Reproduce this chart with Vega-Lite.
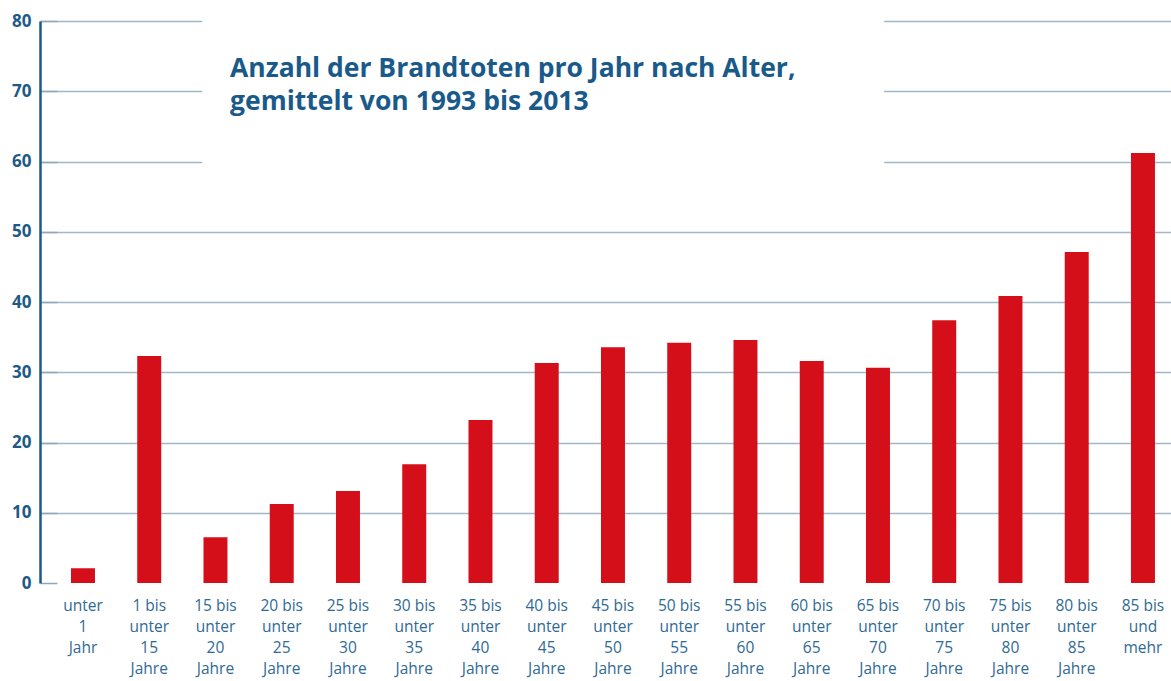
{
  "$schema": "https://vega.github.io/schema/vega-lite/v6.json",
  "width": 1131,
  "height": 562,
  "autosize": {"type": "none"},
  "padding": {"left": 40, "top": 21, "right": 0, "bottom": 98},
  "background": "white",
  "title": {
    "text": ["Anzahl der Brandtoten pro Jahr nach Alter,", "gemittelt von 1993 bis 2013"],
    "anchor": "start",
    "orient": "top",
    "frame": "group",
    "font": "Open Sans",
    "fontSize": 26.5,
    "fontWeight": "bold",
    "color": "#1a5a8a",
    "lineHeight": 33,
    "offset": 0,
    "dx": 190,
    "dy": 103
  },
  "config": {"view": {"stroke": null}},
  "resolve": {"scale": {"x": "independent"}, "axis": {"x": "independent"}},
  "layer": [
    {
      "data": {"values": [{"box": "title"}]},
      "mark": {"type": "rect", "color": "white"},
      "encoding": {
        "x": {"datum": 1.8, "type": "quantitative", "scale": {"domain": [-0.649, 16.42], "nice": false, "zero": false}, "axis": null},
        "x2": {"datum": 12.09},
        "y": {"datum": 57, "type": "quantitative"},
        "y2": {"datum": 81}
      }
    },
    {
      "data": {"values": [
        {"age": "unter|1|Jahr", "value": 2.1},
        {"age": "1 bis|unter|15|Jahre", "value": 32.3},
        {"age": "15 bis|unter|20|Jahre", "value": 6.5},
        {"age": "20 bis|unter|25|Jahre", "value": 11.25},
        {"age": "25 bis|unter|30|Jahre", "value": 13.1},
        {"age": "30 bis|unter|35|Jahre", "value": 16.9},
        {"age": "35 bis|unter|40|Jahre", "value": 23.2},
        {"age": "40 bis|unter|45|Jahre", "value": 31.3},
        {"age": "45 bis|unter|50|Jahre", "value": 33.55},
        {"age": "50 bis|unter|55|Jahre", "value": 34.2},
        {"age": "55 bis|unter|60|Jahre", "value": 34.6},
        {"age": "60 bis|unter|65|Jahre", "value": 31.6},
        {"age": "65 bis|unter|70|Jahre", "value": 30.65},
        {"age": "70 bis|unter|75|Jahre", "value": 37.4},
        {"age": "75 bis|unter|80|Jahre", "value": 40.85},
        {"age": "80 bis|unter|85|Jahre", "value": 47.1},
        {"age": "85 bis|und|mehr", "value": 61.2}
      ]},
      "mark": {"type": "bar", "color": "#d50f1a"},
      "encoding": {
        "x": {
          "field": "age",
          "type": "nominal",
          "sort": null,
          "scale": {"paddingInner": 0.638, "paddingOuter": 0.3549, "align": 0.659},
          "axis": {
            "title": null,
            "domain": false,
            "ticks": false,
            "grid": false,
            "labelAngle": 0,
            "labelExpr": "split(datum.label, '|')",
            "labelFont": "Open Sans",
            "labelFontSize": 15.5,
            "labelColor": "#2f6a94",
            "labelLineHeight": 21.2,
            "labelPadding": 15,
            "labelBaseline": "top",
            "labelOverlap": false,
            "labelLimit": 0
          }
        },
        "y": {
          "field": "value",
          "type": "quantitative",
          "scale": {"domain": [0, 80], "nice": false},
          "axis": {
            "title": null,
            "grid": true,
            "values": [0, 10, 20, 30, 40, 50, 60, 70, 80],
            "domainColor": "#1d5a87",
            "domainWidth": 2.5,
            "tickSize": -17,
            "tickColor": "#8fa8bb",
            "tickWidth": 1.5,
            "gridColor": "#a2b7c6",
            "gridWidth": 1.5,
            "gridOpacity": {"condition": {"test": "datum.value === 0", "value": 0}, "value": 1},
            "labelFont": "Open Sans",
            "labelFontSize": 17,
            "labelFontWeight": "bold",
            "labelColor": "#1d5a87",
            "labelPadding": 26
          }
        }
      }
    }
  ]
}
